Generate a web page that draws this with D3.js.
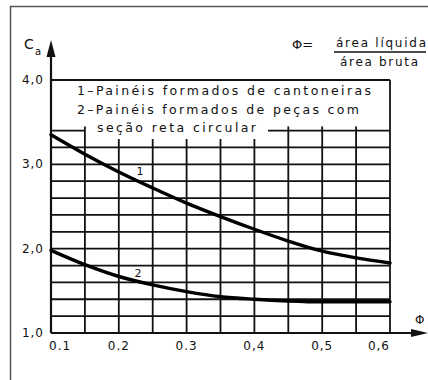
<!DOCTYPE html>
<html>
<head>
<meta charset="utf-8">
<script src="https://cdn.jsdelivr.net/npm/d3@7"></script>
<style>
  body { margin: 0; background: #fff; }
  svg { display: block; }
  text { font-family: "DejaVu Sans", sans-serif; fill: #111; }
</style>
</head>
<body>
<div id="chart"></div>
<script>
// values
const phi = [0.1, 0.15, 0.2, 0.25, 0.3, 0.35, 0.4, 0.45, 0.5, 0.55, 0.6];
const cantoneiras = [3.35, 3.12, 2.91, 2.72, 2.54, 2.38, 2.23, 2.09, 1.97, 1.89, 1.83];
const circular = [1.98, 1.81, 1.67, 1.57, 1.49, 1.43, 1.40, 1.38, 1.37, 1.37, 1.37];
const xTicks = [0.1, 0.2, 0.3, 0.4, 0.5, 0.6];
const xTickLabels = ["0.1", "0.2", "0.3", "0,4", "0,5", "0,6"];
const yTicks = [1, 2, 3, 4];
const yTickLabels = ["1,0", "2,0", "3,0", "4,0"];
const legendLines = ["1\u2013Painéis formados de cantoneiras", "2\u2013Painéis formados de peças com", "seção reta circular"];

const width = 428, height = 380;

const svg = d3.select("#chart").append("svg")
  .attr("width", width)
  .attr("height", height);

const x = d3.scaleLinear().domain([0.1, 0.6]).range([51, 390]);
const y = d3.scaleLinear().domain([1, 4]).range([333, 80]);

// outer frame (left and top only visible)
svg.append("path")
  .attr("d", "M10.5,380 V6.5 H428")
  .attr("fill", "none")
  .attr("stroke", "#555")
  .attr("stroke-width", 1.5);

const grid = svg.append("g").attr("stroke", "#111").attr("stroke-width", 1.8);

// horizontal grid every 0.2 up to 3.2
d3.range(1.2, 3.21, 0.2).forEach(v => {
  grid.append("line")
    .attr("x1", x(0.1)).attr("x2", x(0.6))
    .attr("y1", y(v)).attr("y2", y(v));
});
// partial line at 3.4 (legend box cuts it)
grid.append("line").attr("x1", x(0.1)).attr("x2", x(0.15)).attr("y1", y(3.4)).attr("y2", y(3.4));
grid.append("line").attr("x1", x(0.42)).attr("x2", x(0.6)).attr("y1", y(3.4)).attr("y2", y(3.4));
// top of box
grid.append("line").attr("x1", x(0.1)).attr("x2", x(0.6)).attr("y1", y(4)).attr("y2", y(4));

// vertical grid every 0.05
const vTop = {0.15: 3.45, 0.2: 3.3, 0.25: 3.3, 0.3: 3.3, 0.35: 3.3, 0.4: 3.3, 0.45: 3.45, 0.5: 3.45, 0.55: 3.45};
d3.range(0.15, 0.56, 0.05).forEach(v => {
  const k = Math.round(v * 100) / 100;
  grid.append("line")
    .attr("x1", x(k)).attr("x2", x(k))
    .attr("y1", y(1)).attr("y2", y(vTop[k] || 3.2));
});
// right side of box
grid.append("line").attr("x1", x(0.6)).attr("x2", x(0.6)).attr("y1", y(1)).attr("y2", y(4));

// axes
const axes = svg.append("g").attr("stroke", "#111").attr("stroke-width", 2.2);
axes.append("line").attr("x1", x(0.1)).attr("x2", x(0.1)).attr("y1", y(1)).attr("y2", 50);
axes.append("line").attr("x1", x(0.1)).attr("x2", 420).attr("y1", y(1)).attr("y2", y(1));
svg.append("path").attr("d", `M${x(0.1)},40 L55.5,57 L46.5,57 Z`).attr("fill", "#111");
svg.append("path").attr("d", `M428,${y(1)} L411,${y(1) - 4} L411,${y(1) + 4} Z`).attr("fill", "#111");

// curves
const line = d3.line()
  .x((d, i) => x(phi[i]))
  .y(d => y(d))
  .curve(d3.curveMonotoneX);

[cantoneiras, circular].forEach(s => {
  svg.append("path")
    .datum(s)
    .attr("d", line)
    .attr("fill", "none")
    .attr("stroke", "#000")
    .attr("stroke-width", 3.4)
    .attr("stroke-linecap", "round");
});

svg.append("text").attr("x", 140).attr("y", 175).attr("font-size", 11).attr("text-anchor", "middle").text("1");
svg.append("text").attr("x", 138).attr("y", 277).attr("font-size", 11).attr("text-anchor", "middle").text("2");

// tick labels
svg.append("g").selectAll("text")
  .data(xTicks)
  .join("text")
  .attr("x", (d, i) => i === 0 ? x(d) - 2 : x(d))
  .attr("y", 350)
  .attr("font-size", 12)
  .attr("letter-spacing", 1)
  .attr("text-anchor", (d, i) => i === 0 ? "start" : i === xTicks.length - 1 ? "end" : "middle")
  .text((d, i) => xTickLabels[i]);

svg.append("g").selectAll("text")
  .data(yTicks)
  .join("text")
  .attr("x", 44)
  .attr("y", d => y(d) + 4)
  .attr("font-size", 12)
  .attr("letter-spacing", 1)
  .attr("text-anchor", "end")
  .text((d, i) => yTickLabels[i]);

// axis names
svg.append("text").attr("x", 24).attr("y", 49).attr("font-size", 14).text("C");
svg.append("text").attr("x", 35).attr("y", 55).attr("font-size", 10).text("a");
svg.append("text").attr("x", 415).attr("y", 324).attr("font-size", 12).text("Φ");

// legend in box
const legendX = [77, 77, 97];
const legendW = [294, 282, 159];
svg.append("g").selectAll("text")
  .data(legendLines)
  .join("text")
  .attr("x", (d, i) => legendX[i])
  .attr("y", (d, i) => 95 + i * 18.5)
  .attr("font-size", 12.5)
  .attr("textLength", (d, i) => legendW[i])
  .attr("lengthAdjust", "spacing")
  .text(d => d);

// formula
svg.append("text").attr("x", 292).attr("y", 49).attr("font-size", 13).text("Φ=");
svg.append("text").attr("x", 336).attr("y", 47).attr("font-size", 12)
  .attr("textLength", 90).attr("lengthAdjust", "spacing").text("área líquida");
svg.append("line").attr("x1", 334).attr("x2", 426).attr("y1", 52).attr("y2", 52)
  .attr("stroke", "#111").attr("stroke-width", 1.5);
svg.append("text").attr("x", 340).attr("y", 66).attr("font-size", 12)
  .attr("textLength", 78).attr("lengthAdjust", "spacing").text("área bruta");
</script>
</body>
</html>
